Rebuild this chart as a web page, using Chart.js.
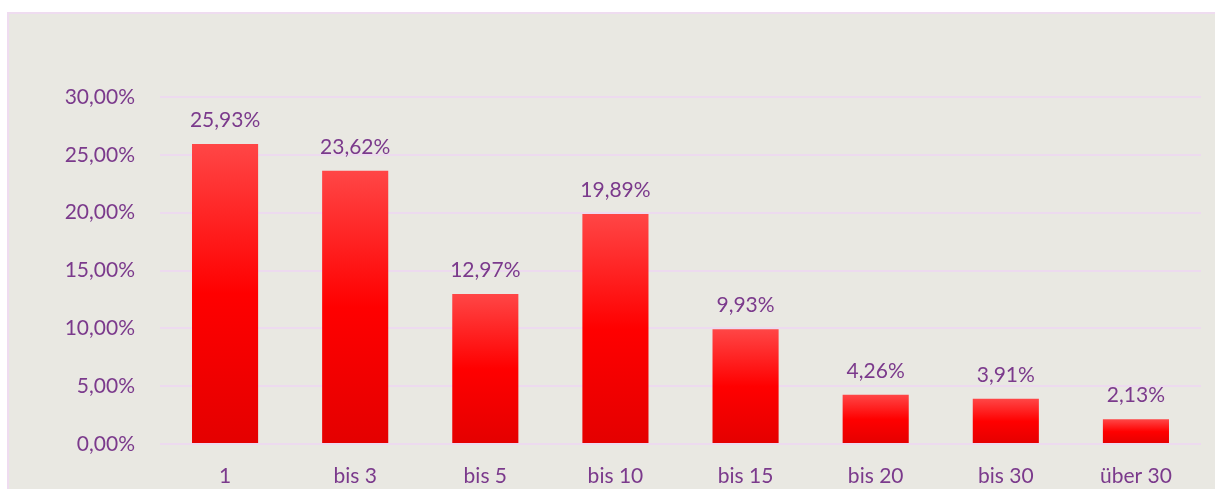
<!DOCTYPE html>
<html>
<head>
<meta charset="utf-8">
<script src="https://cdn.jsdelivr.net/npm/chart.js@4"></script>
<style>
  html, body { margin: 0; padding: 0; background: #ffffff; }
  #wrap { width: 1215px; height: 489px; position: relative; }
</style>
</head>
<body>
<div id="wrap"><canvas id="c" width="1215" height="489"></canvas></div>
<script>
const categories = ['1', 'bis 3', 'bis 5', 'bis 10', 'bis 15', 'bis 20', 'bis 30', 'über 30'];
const values = [25.93, 23.62, 12.97, 19.89, 9.93, 4.26, 3.91, 2.13];
const yTicks = [0, 5, 10, 15, 20, 25, 30];

const TEXT = '#7b3a8c';
const FONT = 'Lato, "Open Sans", sans-serif';

function fmt(v) {
  return v.toFixed(2).replace('.', ',') + '%';
}

const panelPlugin = {
  id: 'panel',
  beforeDraw(chart) {
    const c = chart.ctx;
    c.save();
    c.fillStyle = '#e9e8e2';
    c.fillRect(7, 12, 1215 - 7, 489 - 12);
    c.strokeStyle = '#efdcf0';
    c.lineWidth = 2;
    c.beginPath();
    c.moveTo(8, 489);
    c.lineTo(8, 13);
    c.lineTo(1215, 13);
    c.stroke();
    c.restore();
  }
};

const labelPlugin = {
  id: 'valueLabels',
  afterDatasetsDraw(chart) {
    const c = chart.ctx;
    const meta = chart.getDatasetMeta(0);
    c.save();
    c.fillStyle = TEXT;
    c.font = '21px ' + FONT;
    c.textAlign = 'center';
    c.textBaseline = 'alphabetic';
    meta.data.forEach((bar, i) => {
      c.fillText(fmt(values[i]), bar.x, bar.y - 17);
    });
    c.restore();
  }
};

new Chart(document.getElementById('c'), {
  type: 'bar',
  data: {
    labels: categories,
    datasets: [{
      data: values,
      backgroundColor: (ctx) => {
        const chart = ctx.chart;
        if (!chart.chartArea || ctx.raw === undefined) return '#ff0000';
        const ys = chart.scales.y;
        const top = ys.getPixelForValue(ctx.raw);
        const bottom = ys.getPixelForValue(0);
        const g = chart.ctx.createLinearGradient(0, top, 0, bottom);
        g.addColorStop(0, '#ff4646');
        g.addColorStop(0.5, '#ff0000');
        g.addColorStop(1, '#e40000');
        return g;
      },
      borderWidth: 0,
      categoryPercentage: 1,
      barPercentage: 0.508
    }]
  },
  options: {
    responsive: false,
    animation: false,
    devicePixelRatio: 1,
    layout: { padding: { top: 97, right: 14, left: 0, bottom: 0 } },
    plugins: { legend: { display: false }, tooltip: { enabled: false } },
    scales: {
      x: {
        grid: { display: false, drawTicks: false },
        border: { display: false },
        ticks: { color: TEXT, font: { size: 21, family: FONT }, padding: 20, maxRotation: 0 },
        afterFit(scale) { scale.height = 45; }
      },
      y: {
        min: 0, max: 30,
        afterBuildTicks(scale) { scale.ticks = yTicks.map(v => ({ value: v })); },
        grid: { color: '#eddaef', lineWidth: 2, drawTicks: false },
        border: { display: false },
        ticks: { color: TEXT, font: { size: 21, family: FONT }, padding: 25, callback: (v) => fmt(v) },
        afterFit(scale) { scale.width = 160; }
      }
    }
  },
  plugins: [panelPlugin, labelPlugin]
});
</script>
</body>
</html>
